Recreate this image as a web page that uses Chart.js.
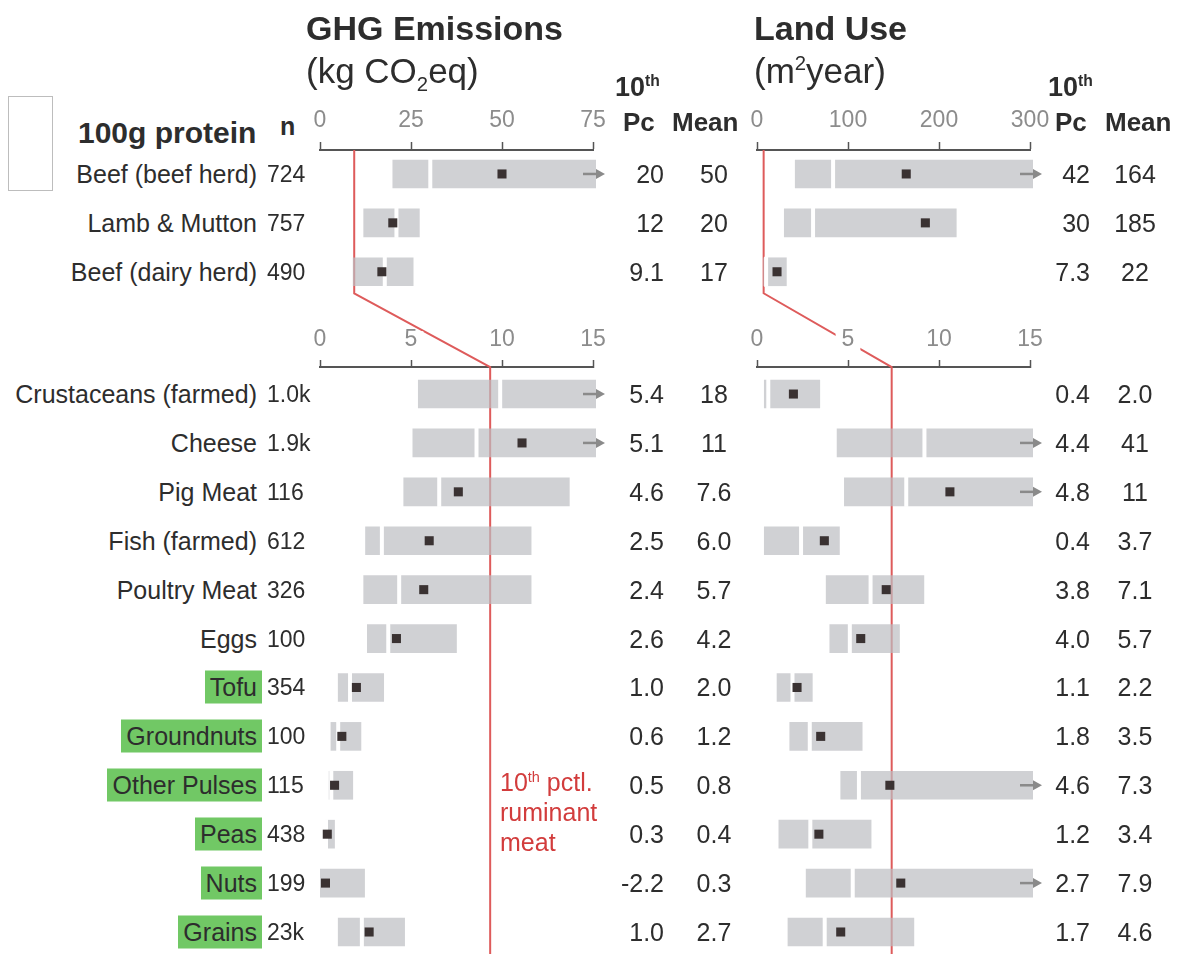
<!DOCTYPE html>
<html>
<head>
<meta charset="utf-8">
<script src="https://cdn.jsdelivr.net/npm/chart.js@4.4.1/dist/chart.umd.min.js"></script>
<style>
body { margin: 0; background: #fff; width: 1185px; height: 954px; overflow: hidden; position: relative;
       font-family: "Liberation Sans", Arial, Helvetica, sans-serif; color: #2d2d2d; }
canvas { position: absolute; top: 0; }
.t { position: absolute; white-space: nowrap; line-height: 1; }
.box { position: absolute; left: 8px; top: 96px; width: 43px; height: 93px; border: 1.5px solid #bdbdbd; }
sup, sub { font-size: 58%; line-height: 0; }
</style>
</head>
<body>
<div class="box"></div>
<canvas id="ghgChart" width="330" height="954" style="left:300px"></canvas>
<canvas id="landChart" width="330" height="954" style="left:737px"></canvas>
<script>
const FONT = '"Liberation Sans", Arial, Helvetica, sans-serif';

// rows: 3 ruminant rows on their own scale, then the rest
const foods = ['Beef (beef herd)', 'Lamb & Mutton', 'Beef (dairy herd)', 'Crustaceans (farmed)', 'Cheese',
    'Pig Meat', 'Fish (farmed)', 'Poultry Meat', 'Eggs', 'Tofu', 'Groundnuts', 'Other Pulses', 'Peas', 'Nuts', 'Grains'];
const nObs = ['724', '757', '490', '1.0k', '1.9k', '116', '612', '326', '100', '354', '100', '115', '438', '199', '23k'];
const plantBased = [false, false, false, false, false, false, false, false, false, true, true, true, true, true, true];
const rowPos = [0, 1, 2, 4.5, 5.5, 6.5, 7.5, 8.5, 9.5, 10.5, 11.5, 12.5, 13.5, 14.5, 15.5];
const ruminantCount = 3;

// GHG emissions (kg CO2eq per 100g protein)
const ghgTicksTop = [0, 75, 25];
const ghgTicksBottom = [0, 15, 5];
const ghgP10 = [20, 12, 9.1, 5.4, 5.1, 4.6, 2.5, 2.4, 2.6, 1.0, 0.6, 0.5, 0.3, -2.2, 1.0];
const ghgMedian = [30.3, 21, 17.8, 9.9, 8.6, 6.55, 3.4, 4.35, 3.75, 1.65, 1.0, 0.62, 0.33, -0.5, 2.3];
const ghgP90 = [80, 27.3, 25.6, 16, 16, 13.7, 11.6, 11.6, 7.5, 3.5, 2.25, 1.8, 0.8, 2.45, 4.65];
const ghgMean = [50, 20, 17, 18, 11.1, 7.6, 6.0, 5.7, 4.2, 2.0, 1.2, 0.8, 0.4, 0.3, 2.7];
const ghgRef = [9.4, 9.35];

// Land use (m2 year per 100g protein)
const landTicksTop = [0, 300, 100];
const landTicksBottom = [0, 15, 5];
const landP10 = [42, 30, 7.3, 0.4, 4.4, 4.8, 0.4, 3.8, 4.0, 1.1, 1.8, 4.6, 1.2, 2.7, 1.7];
const landMedian = [83.6, 61.6, 10, 0.62, 9.2, 8.2, 2.42, 6.24, 5.1, 1.95, 2.9, 5.6, 2.93, 5.26, 3.72];
const landP90 = [310, 219, 32.3, 3.45, 16, 16, 4.53, 9.17, 7.83, 3.04, 5.78, 16, 6.27, 16, 8.62];
const landMean = [164, 185, 22, 2.0, 41, 10.6, 3.7, 7.1, 5.7, 2.2, 3.5, 7.3, 3.4, 7.9, 4.6];
const landRef = [7.3, 7.4];

const yMin = -0.49, yMax = 15.95;
const bottomAxisRow = 3.95;
const kinkRow = 2.44;

function fmt(v) {
    return Math.abs(v) >= 10 ? String(Math.round(v)) : v.toFixed(1);
}

function rowsOf(part) {
    return rowPos.map((_, i) => i).filter(i => part === 0 ? i < ruminantCount : i >= ruminantCount);
}

function buildDatasets(p10, med, p90, mean) {
    const sets = [];
    ['xTop', 'xBot'].forEach((axisId, part) => {
        const idx = rowsOf(part);
        sets.push({
            type: 'scatter', xAxisID: axisId, yAxisID: 'y', order: 1,
            data: idx.map(i => ({x: mean[i], y: rowPos[i]})),
            pointStyle: 'rect', pointRadius: 6.4, pointBackgroundColor: '#3a3232',
            pointBorderWidth: 0, pointBorderColor: '#3a3232'
        });
        sets.push({
            type: 'scatter', xAxisID: axisId, yAxisID: 'y', order: 2,
            data: idx.map(i => ({x: med[i], y: rowPos[i]})),
            pointStyle: 'line', pointRotation: 90, pointRadius: 15,
            pointBorderColor: '#ffffff', pointBorderWidth: 4
        });
        sets.push({
            type: 'bar', xAxisID: axisId, yAxisID: 'y', order: 3, indexAxis: 'y',
            grouped: false, barThickness: 28,
            backgroundColor: 'rgba(188,190,194,0.7)', borderWidth: 0,
            clip: {left: 0, right: 3, top: 0, bottom: 0},
            data: idx.map(i => ({x: [p10[i], p90[i]], y: rowPos[i]}))
        });
    });
    return sets;
}

// red reference line + arrows for truncated bars
const refLinePlugin = {
    id: 'refLine',
    beforeDatasetsDraw(chart, args, opts) {
        const {ctx, chartArea, scales} = chart;
        const xt = scales.xTop.getPixelForValue(opts.values[0]);
        const xb = scales.xBot.getPixelForValue(opts.values[1]);
        ctx.save();
        ctx.strokeStyle = '#de5b5b';
        ctx.lineWidth = 2;
        ctx.beginPath();
        ctx.moveTo(xt, chartArea.top);
        ctx.lineTo(xt, scales.y.getPixelForValue(kinkRow));
        ctx.lineTo(xb, scales.y.getPixelForValue(bottomAxisRow));
        ctx.lineTo(xb, chartArea.bottom);
        ctx.stroke();
        ctx.restore();
    },
    afterDatasetsDraw(chart) {
        const {ctx, scales} = chart;
        chart.data.datasets.forEach(ds => {
            if (ds.type !== 'bar') return;
            const xs = scales[ds.xAxisID];
            ds.data.forEach(pt => {
                if (pt.x[1] <= xs.max) return;
                const xe = xs.getPixelForValue(xs.max);
                const y = scales.y.getPixelForValue(pt.y);
                ctx.save();
                ctx.strokeStyle = '#8a8a8a';
                ctx.fillStyle = '#8a8a8a';
                ctx.lineWidth = 2.5;
                ctx.beginPath();
                ctx.moveTo(xe - 10, y);
                ctx.lineTo(xe + 5, y);
                ctx.stroke();
                ctx.beginPath();
                ctx.moveTo(xe + 12, y);
                ctx.lineTo(xe + 3, y - 5);
                ctx.lineTo(xe + 3, y + 5);
                ctx.closePath();
                ctx.fill();
                ctx.restore();
            });
        });
    }
};

function xAxis(ticks, bottom) {
    return {
        type: 'linear', axis: 'x',
        position: bottom ? {y: bottomAxisRow} : 'top',
        min: ticks[0], max: ticks[1],
        afterFit: s => { s.height = bottom ? 0 : 50; },
        border: {display: true, color: '#555', width: 2},
        grid: {display: true, drawOnChartArea: false, drawTicks: true, tickLength: bottom ? -8 : 8,
               tickColor: '#555', tickWidth: 1.5},
        ticks: {
            stepSize: ticks[2], color: '#8c8c8c', padding: bottom ? -33 : 8,
            font: {family: FONT, size: 23}, maxRotation: 0,
            z: 1, showLabelBackdrop: bottom, backdropColor: '#ffffff',
            backdropPadding: {top: -5, bottom: -3, left: 6, right: 6}
        }
    };
}

function makeChart(id, tTop, tBot, p10, med, p90, mean, ref) {
    return new Chart(document.getElementById(id), {
        type: 'bar',
        data: {datasets: buildDatasets(p10, med, p90, mean)},
        plugins: [refLinePlugin],
        options: {
            responsive: false,
            animation: false,
            events: [],
            indexAxis: 'y',
            layout: {autoPadding: false, padding: {left: 20, right: 37, top: 100, bottom: 0}},
            plugins: {legend: {display: false}, tooltip: {enabled: false}, refLine: {values: ref}},
            scales: {
                y: {type: 'linear', reverse: true, min: yMin, max: yMax, display: false,
                    offset: false, grid: {offset: false}},
                xTop: xAxis(tTop, false),
                xBot: xAxis(tBot, true)
            }
        }
    });
}

const ghgChart = makeChart('ghgChart', ghgTicksTop, ghgTicksBottom, ghgP10, ghgMedian, ghgP90, ghgMean, ghgRef);
const landChart = makeChart('landChart', landTicksTop, landTicksBottom, landP10, landMedian, landP90, landMean, landRef);

// ---- text ----
function addText(html, css) {
    const d = document.createElement('div');
    d.className = 't';
    d.innerHTML = html;
    Object.assign(d.style, css);
    document.body.appendChild(d);
    return d;
}

const W = 1185;
addText('GHG Emissions', {left: '306px', top: '28px', transform: 'translateY(-50%)', fontSize: '34px', fontWeight: 'bold'});
addText('(kg CO<sub>2</sub>eq)', {left: '306px', top: '70px', transform: 'translateY(-50%)', fontSize: '35px'});
addText('Land Use', {left: '754px', top: '28px', transform: 'translateY(-50%)', fontSize: '34px', fontWeight: 'bold'});
addText('(m<sup>2</sup>year)', {left: '754px', top: '70px', transform: 'translateY(-50%)', fontSize: '35px'});
addText('100g protein', {left: '78px', top: '133px', transform: 'translateY(-50%)', fontSize: '30px', fontWeight: 'bold'});
addText('n', {left: '280px', top: '126px', transform: 'translateY(-50%)', fontSize: '25px', fontWeight: 'bold'});

[[615, 623, 672], [1048, 1055, 1105]].forEach(([x10, xPc, xMean]) => {
    addText('10<sup>th</sup>', {left: x10 + 'px', top: '87px', transform: 'translateY(-50%)', fontSize: '27px', fontWeight: 'bold'});
    addText('Pc', {left: xPc + 'px', top: '122px', transform: 'translateY(-50%)', fontSize: '26px', fontWeight: 'bold'});
    addText('Mean', {left: xMean + 'px', top: '122px', transform: 'translateY(-50%)', fontSize: '26px', fontWeight: 'bold'});
});

const ys = ghgChart.scales.y;
foods.forEach((name, i) => {
    const y = ys.getPixelForValue(rowPos[i]);
    addText(name, {right: (W - 262) + 'px', top: y + 'px', transform: 'translateY(-50%)', fontSize: '25px',
                   padding: '4px 5px', background: plantBased[i] ? '#71c865' : 'transparent'});
    addText(nObs[i], {left: '267px', top: y + 'px', transform: 'translateY(-50%)', fontSize: '23px'});
    addText(fmt(ghgP10[i]), {right: (W - 664) + 'px', top: y + 'px', transform: 'translateY(-50%)', fontSize: '25px'});
    addText(fmt(ghgMean[i]), {left: '714px', top: y + 'px', transform: 'translate(-50%,-50%)', fontSize: '25px'});
    addText(fmt(landP10[i]), {right: (W - 1090) + 'px', top: y + 'px', transform: 'translateY(-50%)', fontSize: '25px'});
    addText(fmt(landMean[i]), {left: '1135px', top: y + 'px', transform: 'translate(-50%,-50%)', fontSize: '25px'});
});

addText('10<sup>th</sup> pctl.<br>ruminant<br>meat', {left: '500px', top: '767px', fontSize: '25px', color: '#d23c3c', lineHeight: '30px'});
</script>
</body>
</html>
